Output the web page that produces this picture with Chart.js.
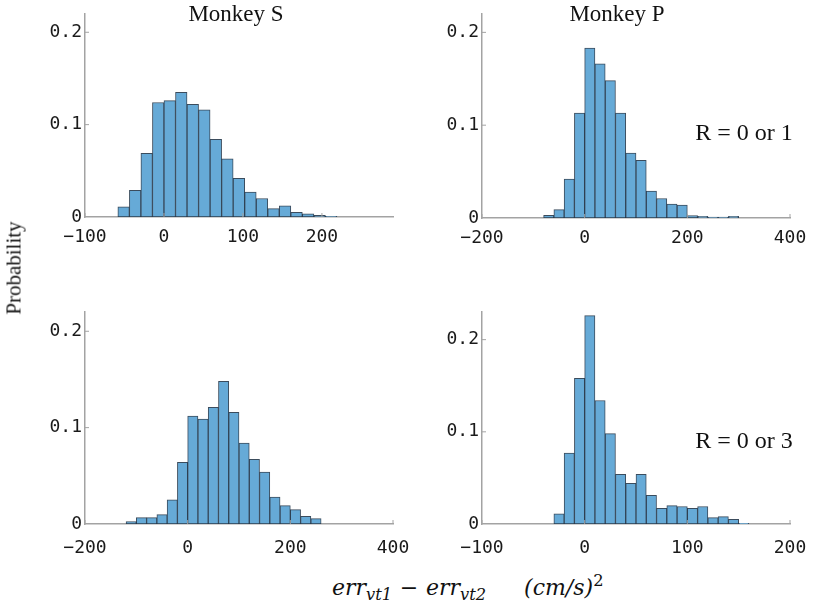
<!DOCTYPE html>
<html lang="en">
	<head>
		<meta charset="UTF-8" />
		<title>Error difference histograms</title>
		<script src="https://cdn.jsdelivr.net/npm/chart.js"></script>
		<style>
			body {
				margin: 0;
				background: #fff;
				overflow: hidden;
			}
			.figure {
				position: relative;
				width: 816px;
				height: 609px;
				overflow: hidden;
				font-family: 'Liberation Serif', 'Times New Roman', serif;
				color: #111;
			}
			.figure canvas {
				position: absolute;
			}
			.txt {
				position: absolute;
				white-space: nowrap;
				line-height: 1;
			}
			.title {
				font-size: 23px;
				transform: translate(-50%, -50%);
			}
			.note {
				font-size: 24px;
				transform: translate(-50%, -50%);
			}
			.ylab {
				font-size: 21px;
				left: 14px;
				top: 268px;
				transform: translate(-50%, -50%) rotate(-90deg);
			}
			.xlab {
				font-family: 'DejaVu Serif', serif;
				font-size: 22px;
				font-style: italic;
				left: 332px;
				top: 588px;
				transform: translateY(-50%);
			}
			.xlab sub {
				font-size: 0.74em;
				vertical-align: -0.3em;
			}
			.xlab sup {
				font-size: 0.74em;
				font-style: normal;
				vertical-align: 0.55em;
			}
			.xlab .op {
				font-style: normal;
				margin: 0 0.35em;
			}
			.xlab .gap {
				display: inline-block;
				width: 38px;
			}
		</style>
	</head>
	<body>
		<div class="figure">
			<canvas id="sR1" width="440" height="262" style="left: 0; top: 0"></canvas>
			<canvas id="pR1" width="440" height="262" style="left: 400px; top: 0"></canvas>
			<canvas id="sR3" width="440" height="270" style="left: 0; top: 290px"></canvas>
			<canvas id="pR3" width="440" height="270" style="left: 400px; top: 290px"></canvas>

			<div class="txt title" style="left: 236px; top: 13px">Monkey S</div>
			<div class="txt title" style="left: 617px; top: 13px">Monkey P</div>
			<div class="txt note" style="left: 744px; top: 132px">R = 0 or 1</div>
			<div class="txt note" style="left: 744px; top: 440px">R = 0 or 3</div>
			<div class="txt ylab">Probability</div>
			<div class="txt xlab">err<sub>vt1</sub><span class="op">−</span>err<sub>vt2</sub><span class="gap"></span>(cm/s)<sup>2</sup></div>
		</div>

		<script>
			// bin centres and probabilities

			// Monkey S, R = 0 or 1
			const sBinsR1 = [-51.1, -36.5, -21.9, -7.3, 7.3, 21.9, 36.5, 51.1, 65.7, 80.3, 94.9, 109.5, 124.1, 138.7, 153.3, 167.9, 182.5, 197.1, 211.7];
			const sProbR1 = [0.011, 0.029, 0.069, 0.124, 0.126, 0.135, 0.122, 0.116, 0.084, 0.063, 0.042, 0.027, 0.020, 0.009, 0.012, 0.005, 0.0035, 0.0017, 0.0006];

			// Monkey P, R = 0 or 1
			const pBinsR1 = [-70, -50, -30, -10, 10, 30, 50, 70, 90, 110, 130, 150, 170, 190, 210, 230, 250, 270, 290];
			const pProbR1 = [0.003, 0.009, 0.042, 0.113, 0.183, 0.166, 0.148, 0.113, 0.070, 0.062, 0.029, 0.021, 0.015, 0.014, 0.0025, 0.0018, 0.001, 0.001, 0.0018];

			// Monkey S, R = 0 or 3
			const sBinsR3 = [-110, -90, -70, -50, -30, -10, 10, 30, 50, 70, 90, 110, 130, 150, 170, 190, 210, 230, 250];
			const sProbR3 = [0.0025, 0.0066, 0.0066, 0.0097, 0.025, 0.064, 0.112, 0.109, 0.121, 0.148, 0.116, 0.084, 0.067, 0.054, 0.028, 0.019, 0.015, 0.008, 0.0056];

			// Monkey P, R = 0 or 3
			const pBinsR3 = [-25, -15, -5, 5, 15, 25, 35, 45, 55, 65, 75, 85, 95, 105, 115, 125, 135, 145, 155];
			const pProbR3 = [0.011, 0.077, 0.158, 0.226, 0.134, 0.098, 0.054, 0.044, 0.054, 0.031, 0.017, 0.020, 0.019, 0.017, 0.019, 0.007, 0.008, 0.005, 0.0007];

			// axis limits and tick labels
			const xRangeS1 = [-100, 290];
			const xTicksS1 = [-100, 0, 100, 200];
			const xRangeP1 = [-200, 400];
			const xTicksP1 = [-200, 0, 200, 400];
			const xRangeS3 = [-200, 400];
			const xTicksS3 = [-200, 0, 200, 400];
			const xRangeP3 = [-100, 200];
			const xTicksP3 = [-100, 0, 100, 200];
			const yTicks = [0, 0.1, 0.2];

			const axisGray = '#a3a3a3';
			const tickFont = { family: "'DejaVu Sans Mono', monospace", size: 18 };

			// MATLAB style ticks pointing into the plot
			const innerTicks = {
				id: 'innerTicks',
				afterDraw(chart) {
					const { ctx, chartArea, scales } = chart;
					ctx.save();
					ctx.strokeStyle = axisGray;
					ctx.lineWidth = 1;
					scales.y.ticks.forEach((t) => {
						if (t.value === 0) return;
						const y = scales.y.getPixelForValue(t.value);
						ctx.beginPath();
						ctx.moveTo(chartArea.left, y);
						ctx.lineTo(chartArea.left + 4, y);
						ctx.stroke();
					});
					scales.x.ticks.forEach((t) => {
						const x = scales.x.getPixelForValue(t.value);
						ctx.beginPath();
						ctx.moveTo(x, chartArea.bottom);
						ctx.lineTo(x, chartArea.bottom - 4);
						ctx.stroke();
					});
					ctx.restore();
				},
			};

			function makePanel(id, bins, probs, xRange, xTicks, yMax, box) {
				const points = bins.map((b, i) => ({ x: b, y: probs[i] }));

				return new Chart(document.getElementById(id), {
					type: 'bar',
					data: {
						datasets: [
							{
								data: points,
								backgroundColor: '#66aad7',
								borderColor: 'rgba(25, 45, 65, 0.85)',
								borderWidth: 1,
								borderSkipped: false,
								barPercentage: 1,
								categoryPercentage: 1,
							},
						],
					},
					options: {
						responsive: false,
						animation: false,
						events: [],
						layout: { padding: box.pad },
						plugins: {
							legend: { display: false },
							tooltip: { enabled: false },
						},
						scales: {
							x: {
								type: 'linear',
								offset: false,
								min: xRange[0],
								max: xRange[1],
								grid: { display: false, drawTicks: false },
								border: { color: axisGray, width: 1.5 },
								afterBuildTicks: (s) => {
									s.ticks = xTicks.map((v) => ({ value: v }));
								},
								afterFit: (s) => {
									s.height = box.xh;
								},
								ticks: {
									autoSkip: false,
									padding: box.xpad,
									maxRotation: 0,
									color: '#1a1a1a',
									font: tickFont,
									callback: (v) => String(v).replace('-', '\u2212'),
								},
							},
							y: {
								min: 0,
								max: yMax,
								grid: { display: false, drawTicks: false },
								border: { color: axisGray, width: 1.5 },
								afterBuildTicks: (s) => {
									s.ticks = yTicks.map((v) => ({ value: v }));
								},
								afterFit: (s) => {
									s.width = box.yw;
								},
								ticks: {
									padding: 3,
									color: '#1a1a1a',
									font: tickFont,
									callback: (v) => (v === 0 ? '0' : v.toFixed(1)),
								},
							},
						},
					},
					plugins: [innerTicks],
				});
			}

			makePanel('sR1', sBinsR1, sProbR1, xRangeS1, xTicksS1, 0.22, {
				pad: { top: 5, right: 47, left: 0, bottom: 0 },
				yw: 85,
				xh: 45,
				xpad: 10,
			});
			makePanel('pR1', pBinsR1, pProbR1, xRangeP1, xTicksP1, 0.22, {
				pad: { top: 5, right: 50, left: 0, bottom: 0 },
				yw: 82,
				xh: 44,
				xpad: 10,
			});
			makePanel('sR3', sBinsR3, sProbR3, xRangeS3, xTicksS3, 0.22, {
				pad: { top: 22, right: 47, left: 0, bottom: 0 },
				yw: 85,
				xh: 36,
				xpad: 14,
			});
			makePanel('pR3', pBinsR3, pProbR3, xRangeP3, xTicksP3, 0.23, {
				pad: { top: 22, right: 50, left: 0, bottom: 0 },
				yw: 82,
				xh: 36,
				xpad: 14,
			});
		</script>
	</body>
</html>
